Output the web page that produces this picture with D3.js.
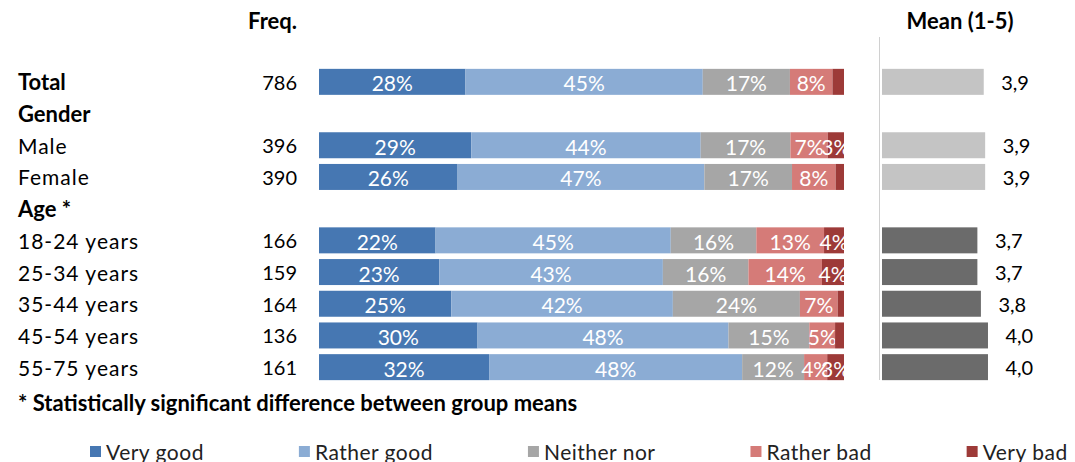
<!DOCTYPE html>
<html>
<head>
<meta charset="utf-8">
<script src="https://cdn.jsdelivr.net/npm/d3@7"></script>
<style>
  body { margin: 0; background: #fff; }
  svg { display: block; font-family: Lato, "Open Sans", sans-serif; }
</style>
</head>
<body>
<svg id="chart" width="1075" height="462"></svg>
<script>

var rowLabels = ["Total", "Gender", "Male", "Female", "Age *", "18-24 years", "25-34 years", "35-44 years", "45-54 years", "55-75 years"];
var boldRows = ["Total", "Gender", "Age *"];
var freq = [786, null, 396, 390, null, 166, 159, 164, 136, 161];

var seriesNames = ["Very good", "Rather good", "Neither nor", "Rather bad", "Very bad"];
var seriesColors = ["#4677b2", "#8bacd4", "#a6a6a6", "#d57b78", "#9d3a38"];

var veryGood   = [27.9, null, 29.0, 26.4, null, 22.2, 22.9, 25.2, 30.2, 32.4];
var ratherGood = [45.2, null, 43.7, 47.0, null, 44.8, 42.6, 42.2, 47.8, 48.2];
var neither    = [16.6, null, 17.1, 16.7, null, 16.3, 16.3, 24.2, 15.4, 11.8];
var ratherBad  = [8.1,  null, 7.1,  8.3,  null, 12.9, 14.0, 7.2,  4.9,  4.4];
var veryBad    = [2.2,  null, 3.1,  1.6,  null, 3.8,  4.2,  1.2,  1.7,  3.2];

var means = [3.88, null, 3.92, 3.92, null, 3.70, 3.70, 3.80, 4.00, 4.00];
var meanSignificant = [false, null, false, false, null, true, true, true, true, true];

var svg = d3.select("#chart");

var y = d3.scaleBand().domain(rowLabels).range([66, 383]).paddingInner(0.18).paddingOuter(0.09);
var x = d3.scaleLinear().domain([0, 1]).range([319, 844]);
var xm = d3.scaleLinear().domain([1, 5]).range([882, 1023.3]);
var color = d3.scaleOrdinal().domain(seriesNames).range(seriesColors);

// headers
svg.append("text").attr("x", 297).attr("y", 20).attr("text-anchor", "end")
  .attr("dominant-baseline", "central").style("font-weight", "bold").style("font-size", "22px")
  .text("Freq.");
svg.append("text").attr("x", 960).attr("y", 20).attr("text-anchor", "middle")
  .attr("dominant-baseline", "central").style("font-weight", "bold").style("font-size", "22px")
  .text("Mean (1-5)");

// row labels + freq
rowLabels.forEach(function (lab, i) {
  var cy = y(lab) + y.bandwidth() / 2;
  var isBold = boldRows.indexOf(lab) >= 0;
  svg.append("text").attr("x", 18).attr("y", cy).attr("dominant-baseline", "central")
    .style("font-size", isBold ? "22px" : "21px")
    .style("letter-spacing", isBold ? "0px" : "1px")
    .style("font-weight", isBold ? "bold" : "normal")
    .text(lab);
  if (freq[i] != null) {
    svg.append("text").attr("x", 297).attr("y", cy).attr("text-anchor", "end")
      .attr("dominant-baseline", "central").style("font-size", "20px").text(freq[i]);
  }
});

// stacked bars (100%)
var rows = [];
rowLabels.forEach(function (lab, i) {
  if (veryGood[i] == null) return;
  var vals = [veryGood[i], ratherGood[i], neither[i], ratherBad[i], veryBad[i]];
  var sum = d3.sum(vals);
  var acc = 0;
  vals.forEach(function (v, k) {
    rows.push({ row: lab, name: seriesNames[k], v: v, x0: acc / sum, x1: (acc + v) / sum });
    acc += v;
  });
});

var seg = svg.append("g").selectAll("g").data(rows).enter().append("g");
seg.append("rect")
  .attr("x", function (d) { return x(d.x0); })
  .attr("y", function (d) { return y(d.row); })
  .attr("width", function (d) { return x(d.x1) - x(d.x0); })
  .attr("height", y.bandwidth())
  .attr("fill", function (d) { return color(d.name); });
seg.filter(function (d) { return Math.round(d.v) >= 3; })
  .append("text")
  .attr("x", function (d) { return (x(d.x0) + x(d.x1)) / 2; })
  .attr("y", function (d) { return y(d.row) + y.bandwidth() / 2 + 1; })
  .attr("text-anchor", "middle").attr("dominant-baseline", "central")
  .style("font-size", "21px").attr("fill", "#fff")
  .text(function (d) { return Math.round(d.v) + "%"; });

// mean panel
svg.append("line").attr("x1", 879.5).attr("x2", 879.5).attr("y1", 37).attr("y2", 380)
  .attr("stroke", "#d0d0d0").attr("stroke-width", 1);

rowLabels.forEach(function (lab, i) {
  if (means[i] == null) return;
  var cy = y(lab) + y.bandwidth() / 2;
  svg.append("rect").attr("x", xm(1)).attr("y", y(lab))
    .attr("width", xm(means[i]) - xm(1)).attr("height", y.bandwidth())
    .attr("fill", meanSignificant[i] ? "#6b6b6b" : "#c4c4c4");
  svg.append("text").attr("x", xm(means[i]) + 17.5).attr("y", cy)
    .attr("dominant-baseline", "central").style("font-size", "20px")
    .text(means[i].toFixed(1).replace(".", ","));
});

// footnote
svg.append("text").attr("x", 18).attr("y", 402).attr("dominant-baseline", "central")
  .style("font-weight", "bold").style("font-size", "22px")
  .text("* Statistically significant difference between group means");

// legend
var lx = 90;
seriesNames.forEach(function (name) {
  svg.append("rect").attr("x", lx).attr("y", 446).attr("width", 11).attr("height", 11)
    .attr("fill", color(name));
  var t = svg.append("text").attr("x", lx + 16).attr("y", 451).attr("dominant-baseline", "central")
    .style("font-size", "21px").style("letter-spacing", "0.5px").attr("fill", "#222").text(name);
  lx = lx + 16 + t.node().getComputedTextLength() + 95;
});

</script>
</body>
</html>
